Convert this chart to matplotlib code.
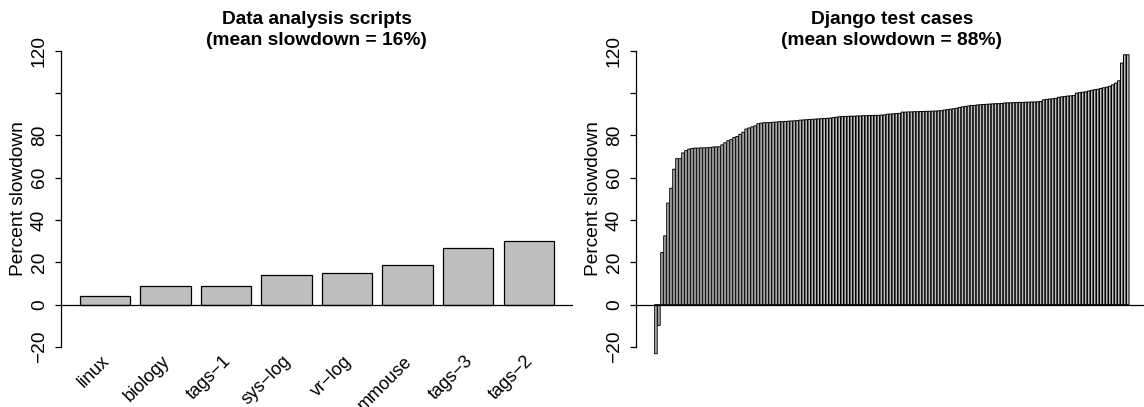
import numpy as np
import matplotlib.pyplot as plt
from matplotlib.transforms import ScaledTranslation

plt.rcParams['font.family'] = ['Liberation Sans', 'DejaVu Sans']

# left panel: data analysis scripts
scripts = ['linux', 'biology', 'tags\u22121', 'sys\u2212log', 'vr\u2212log',
           'mmouse', 'tags\u22123', 'tags\u22122']
script_slow = [4.0, 8.8, 9.0, 14.0, 15.0, 18.5, 27.0, 30.0]

# right panel: django test cases (sorted)
django_slow = [
    -23.2, -9.8, 24.6, 32.5, 48.0, 55.0, 64.0, 69.0, 69.0, 71.7,
    72.8, 73.5, 73.8, 74.0, 74.0, 74.1, 74.1, 74.2, 74.3, 74.5,
    74.6, 74.6, 75.5, 76.5, 77.5, 78.0, 79.0, 79.5, 80.5, 81.5,
    83.0, 83.5, 84.0, 84.5, 85.5, 85.8, 86.0, 86.0, 86.1, 86.2,
    86.3, 86.5, 86.5, 86.6, 86.7, 86.8, 86.9, 87.0, 87.2, 87.3,
    87.4, 87.5, 87.6, 87.7, 87.8, 87.9, 88.0, 88.1, 88.2, 88.4,
    88.6, 88.8, 88.9, 89.0, 89.0, 89.1, 89.1, 89.2, 89.2, 89.3,
    89.3, 89.4, 89.4, 89.5, 89.5, 89.6, 89.7, 90.0, 90.1, 90.2,
    90.3, 90.4, 91.0, 91.0, 91.1, 91.1, 91.2, 91.2, 91.3, 91.3,
    91.4, 91.4, 91.5, 91.5, 91.6, 91.7, 92.0, 92.2, 92.4, 92.6,
    92.8, 93.2, 93.5, 93.7, 93.9, 94.1, 94.2, 94.4, 94.5, 94.6,
    94.7, 94.8, 94.9, 95.0, 95.0, 95.1, 95.3, 95.4, 95.4, 95.5,
    95.5, 95.6, 95.6, 95.7, 95.7, 95.8, 95.8, 95.9, 96.0, 96.8,
    97.0, 97.2, 97.3, 97.5, 98.0, 98.2, 98.4, 98.6, 98.7, 98.9,
    100.0, 100.2, 100.4, 100.6, 101.0, 101.3, 101.6, 101.8, 102.2, 102.5,
    102.8, 103.2, 103.9, 104.7, 105.8, 114.2, 118.1, 118.1,
]

yticks = [-20, 0, 20, 40, 60, 80, 100, 120]
ytick_labels = ['\u221220', '0', '20', '40', '60', '80', '', '120']

W, H = 1144, 407
FS = 13.75
fig = plt.figure(figsize=(W / 100, H / 100), dpi=100)


def rbarplot(ax, vals, fill, lw, snap=None):
    # mimic R barplot: width 1, space 0.2, 4% axis padding
    n = len(vals)
    pos = 0.7 + 1.2 * np.arange(n)
    ax.bar(pos, vals, width=1.0, color=fill, edgecolor='black', linewidth=lw,
           snap=snap)
    lo, hi = 0.2, 1.2 * n
    pad = 0.04 * (hi - lo)
    ax.set_xlim(lo - pad, hi + pad)
    ax.set_ylim(-20 - 5.6, 120 + 5.6)
    ax.axhline(0, color='black', lw=0.9)
    for s in ['top', 'right', 'bottom']:
        ax.spines[s].set_visible(False)
    ax.spines['left'].set_bounds(-20, 120)
    ax.spines['left'].set_linewidth(0.9)
    ax.set_yticks(yticks)
    ax.set_yticklabels(ytick_labels, rotation=90, va='center', fontsize=FS)
    ax.tick_params(axis='y', length=4.2, width=0.9, pad=5)
    ax.set_ylabel('Percent slowdown', fontsize=FS, labelpad=3)
    return pos


def title(ax, txt):
    b = ax.get_position()
    fig.text((b.x0 + b.x1) / 2, (H - 30) / H, txt, ha='center', va='center',
             fontsize=FS, fontweight='bold', linespacing=1.25)


ax1 = fig.add_axes([60.7 / W, 48.2 / H, 512.3 / W, 319.9 / H])
pos = rbarplot(ax1, script_slow, '#bebebe', 0.9)
ax1.set_xticks(pos)
ax1.set_xticklabels(scripts, rotation=45, ha='right', va='center',
                    rotation_mode='anchor', fontsize=13)
ax1.tick_params(axis='x', length=0, pad=0)
off = ScaledTranslation(2 / 100, 0, fig.dpi_scale_trans)
for lbl in ax1.get_xticklabels():
    lbl.set_transform(lbl.get_transform() + off)
title(ax1, 'Data analysis scripts\n(mean slowdown = 16%)')

ax2 = fig.add_axes([635.7 / W, 48.2 / H, 512.3 / W, 319.9 / H])
rbarplot(ax2, django_slow, '#bebebe', 0.7, snap=False)
ax2.set_xticks([])
title(ax2, 'Django test cases\n(mean slowdown = 88%)')

fig.savefig('out.png', dpi=100)
